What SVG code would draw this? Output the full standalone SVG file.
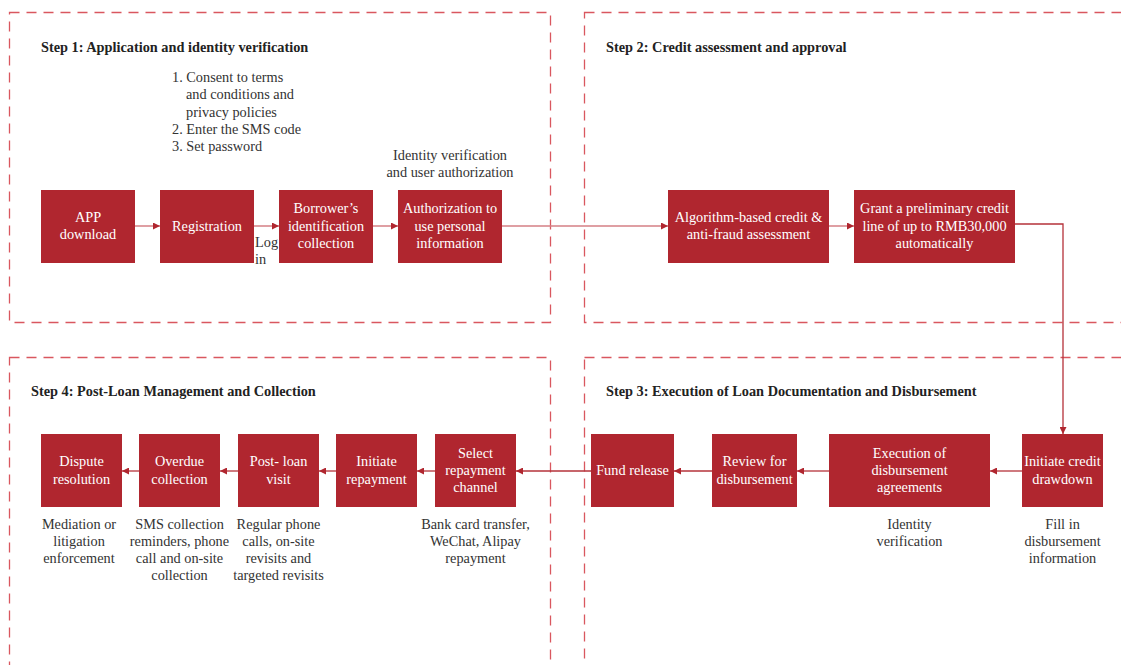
<svg xmlns="http://www.w3.org/2000/svg" width="1121" height="665" viewBox="0 0 1121 665">
<style>
.panel{fill:none;stroke:#d9575f;stroke-width:1.3;stroke-dasharray:10 7}
.box{fill:#b0262f}
.bt{font-family:"Liberation Serif","Times New Roman",serif;font-size:14.3px;fill:#ffffff;text-anchor:middle}
.title{font-family:"Liberation Serif","Times New Roman",serif;font-size:14.3px;font-weight:bold;fill:#222222}
.lbl{font-family:"Liberation Serif","Times New Roman",serif;font-size:14.3px;fill:#333333}
.c{text-anchor:middle}
.ln1{fill:none;stroke:#d47f85;stroke-width:1.5}
.ln2{fill:none;stroke:#b5323a;stroke-width:1.3}
</style>
<defs>
<marker id="ah" viewBox="0 0 10 10" refX="10" refY="5" markerWidth="7" markerHeight="7" markerUnits="userSpaceOnUse" orient="auto">
<path d="M0,0 L10,5 L0,10 z" fill="#b0262f"/>
</marker>
</defs>
<rect x="0" y="0" width="1121" height="665" fill="#ffffff"/>
<g id="panels">
<rect class="panel" x="9.5" y="12.5" width="541" height="310"/>
<rect class="panel" x="584.5" y="12.5" width="560" height="310"/>
<rect class="panel" x="9.5" y="357.5" width="541" height="330"/>
<rect class="panel" x="584.5" y="357.5" width="560" height="330"/>
<text class="title" x="41" y="51.5">Step 1: Application and identity verification</text>
<text class="title" x="606" y="51.5">Step 2: Credit assessment and approval</text>
<text class="title" x="606" y="395.5">Step 3: Execution of Loan Documentation and Disbursement</text>
<text class="title" x="31" y="395.5">Step 4: Post-Loan Management and Collection</text>
</g>
<g id="connectors">
<line class="ln1" x1="135" y1="226" x2="160" y2="226" marker-end="url(#ah)"/>
<line class="ln1" x1="254" y1="226" x2="279" y2="226" marker-end="url(#ah)"/>
<line class="ln1" x1="373" y1="226" x2="398" y2="226" marker-end="url(#ah)"/>
<line class="ln1" x1="502" y1="226" x2="668" y2="226" marker-end="url(#ah)"/>
<line class="ln1" x1="829" y1="226" x2="854" y2="226" marker-end="url(#ah)"/>
<polyline class="ln2" points="1015,224 1063,224 1063,434" marker-end="url(#ah)"/>
<line class="ln2" x1="1022" y1="471" x2="990" y2="471" marker-end="url(#ah)"/>
<line class="ln2" x1="829" y1="471" x2="797" y2="471" marker-end="url(#ah)"/>
<line class="ln2" x1="712" y1="471" x2="674" y2="471" marker-end="url(#ah)"/>
<line class="ln2" x1="591" y1="471" x2="516" y2="471" marker-end="url(#ah)"/>
<line class="ln2" x1="435" y1="471" x2="417" y2="471" marker-end="url(#ah)"/>
<line class="ln2" x1="336" y1="471" x2="319" y2="471" marker-end="url(#ah)"/>
<line class="ln2" x1="238" y1="471" x2="220" y2="471" marker-end="url(#ah)"/>
<line class="ln2" x1="139" y1="471" x2="122" y2="471" marker-end="url(#ah)"/>
<text class="lbl" x="255" y="247">Log</text>
<text class="lbl" x="255" y="264">in</text>
</g>
<g id="reg-notes">
<text class="lbl" x="172" y="81.5">1. Consent to terms</text>
<text class="lbl" x="186" y="99">and conditions and</text>
<text class="lbl" x="186" y="116.5">privacy policies</text>
<text class="lbl" x="172" y="133.5">2. Enter the SMS code</text>
<text class="lbl" x="172" y="151">3. Set password</text>
</g>
<g id="auth-notes">
<text class="lbl c" x="450" y="159.5">Identity verification</text>
<text class="lbl c" x="450" y="176.5">and user authorization</text>
</g>
<g id="n-app"><rect class="box" x="41" y="190" width="94" height="73"/><text class="bt" x="88" y="222">APP</text><text class="bt" x="88" y="239">download</text></g>
<g id="n-reg"><rect class="box" x="160" y="190" width="94" height="73"/><text class="bt" x="207" y="231">Registration</text></g>
<g id="n-borrower"><rect class="box" x="279" y="190" width="94" height="73"/><text class="bt" x="326" y="213">Borrower’s</text><text class="bt" x="326" y="230.5">identification</text><text class="bt" x="326" y="248">collection</text></g>
<g id="n-authorization"><rect class="box" x="398" y="190" width="104" height="73"/><text class="bt" x="450" y="213">Authorization to</text><text class="bt" x="450" y="230.5">use personal</text><text class="bt" x="450" y="248">information</text></g>
<g id="n-algo"><rect class="box" x="668" y="190" width="161" height="73"/><text class="bt" x="748.5" y="222">Algorithm-based credit &amp;</text><text class="bt" x="748.5" y="239">anti-fraud assessment</text></g>
<g id="n-grant"><rect class="box" x="854" y="190" width="161" height="73"/><text class="bt" x="934.5" y="213">Grant a preliminary credit</text><text class="bt" x="934.5" y="230.5">line of up to RMB30,000</text><text class="bt" x="934.5" y="248">automatically</text></g>
<g id="n-drawdown"><rect class="box" x="1022" y="434" width="81" height="73"/><text class="bt" x="1062.5" y="466">Initiate credit</text><text class="bt" x="1062.5" y="484">drawdown</text>
<text class="lbl c" x="1062.5" y="528.5">Fill in</text><text class="lbl c" x="1062.5" y="545.5">disbursement</text><text class="lbl c" x="1062.5" y="562.5">information</text></g>
<g id="n-exec"><rect class="box" x="829" y="434" width="161" height="73"/><text class="bt" x="909.5" y="457.5">Execution of</text><text class="bt" x="909.5" y="475">disbursement</text><text class="bt" x="909.5" y="492">agreements</text>
<text class="lbl c" x="909.5" y="528.5">Identity</text><text class="lbl c" x="909.5" y="545.5">verification</text></g>
<g id="n-review"><rect class="box" x="712" y="434" width="85" height="73"/><text class="bt" x="754.5" y="466">Review for</text><text class="bt" x="754.5" y="484">disbursement</text></g>
<g id="n-fund"><rect class="box" x="591" y="434" width="83" height="73"/><text class="bt" x="632.5" y="475">Fund release</text></g>
<g id="n-select"><rect class="box" x="435" y="434" width="81" height="73"/><text class="bt" x="475.5" y="457.5">Select</text><text class="bt" x="475.5" y="475">repayment</text><text class="bt" x="475.5" y="492">channel</text>
<text class="lbl c" x="475.5" y="528.5">Bank card transfer,</text><text class="lbl c" x="475.5" y="545.5">WeChat, Alipay</text><text class="lbl c" x="475.5" y="562.5">repayment</text></g>
<g id="n-repay"><rect class="box" x="336" y="434" width="81" height="73"/><text class="bt" x="376.5" y="466">Initiate</text><text class="bt" x="376.5" y="484">repayment</text></g>
<g id="n-postloan"><rect class="box" x="238" y="434" width="81" height="73"/><text class="bt" x="278.5" y="466">Post- loan</text><text class="bt" x="278.5" y="484">visit</text>
<text class="lbl c" x="278.5" y="528.5">Regular phone</text><text class="lbl c" x="278.5" y="545.5">calls, on-site</text><text class="lbl c" x="278.5" y="562.5">revisits and</text><text class="lbl c" x="278.5" y="579.5">targeted revisits</text></g>
<g id="n-overdue"><rect class="box" x="139" y="434" width="81" height="73"/><text class="bt" x="179.5" y="466">Overdue</text><text class="bt" x="179.5" y="484">collection</text>
<text class="lbl c" x="179.5" y="528.5">SMS collection</text><text class="lbl c" x="179.5" y="545.5">reminders, phone</text><text class="lbl c" x="179.5" y="562.5">call and on-site</text><text class="lbl c" x="179.5" y="579.5">collection</text></g>
<g id="n-dispute"><rect class="box" x="41" y="434" width="81" height="73"/><text class="bt" x="81.5" y="466">Dispute</text><text class="bt" x="81.5" y="484">resolution</text>
<text class="lbl c" x="79" y="528.5">Mediation or</text><text class="lbl c" x="79" y="545.5">litigation</text><text class="lbl c" x="79" y="562.5">enforcement</text></g>
</svg>
